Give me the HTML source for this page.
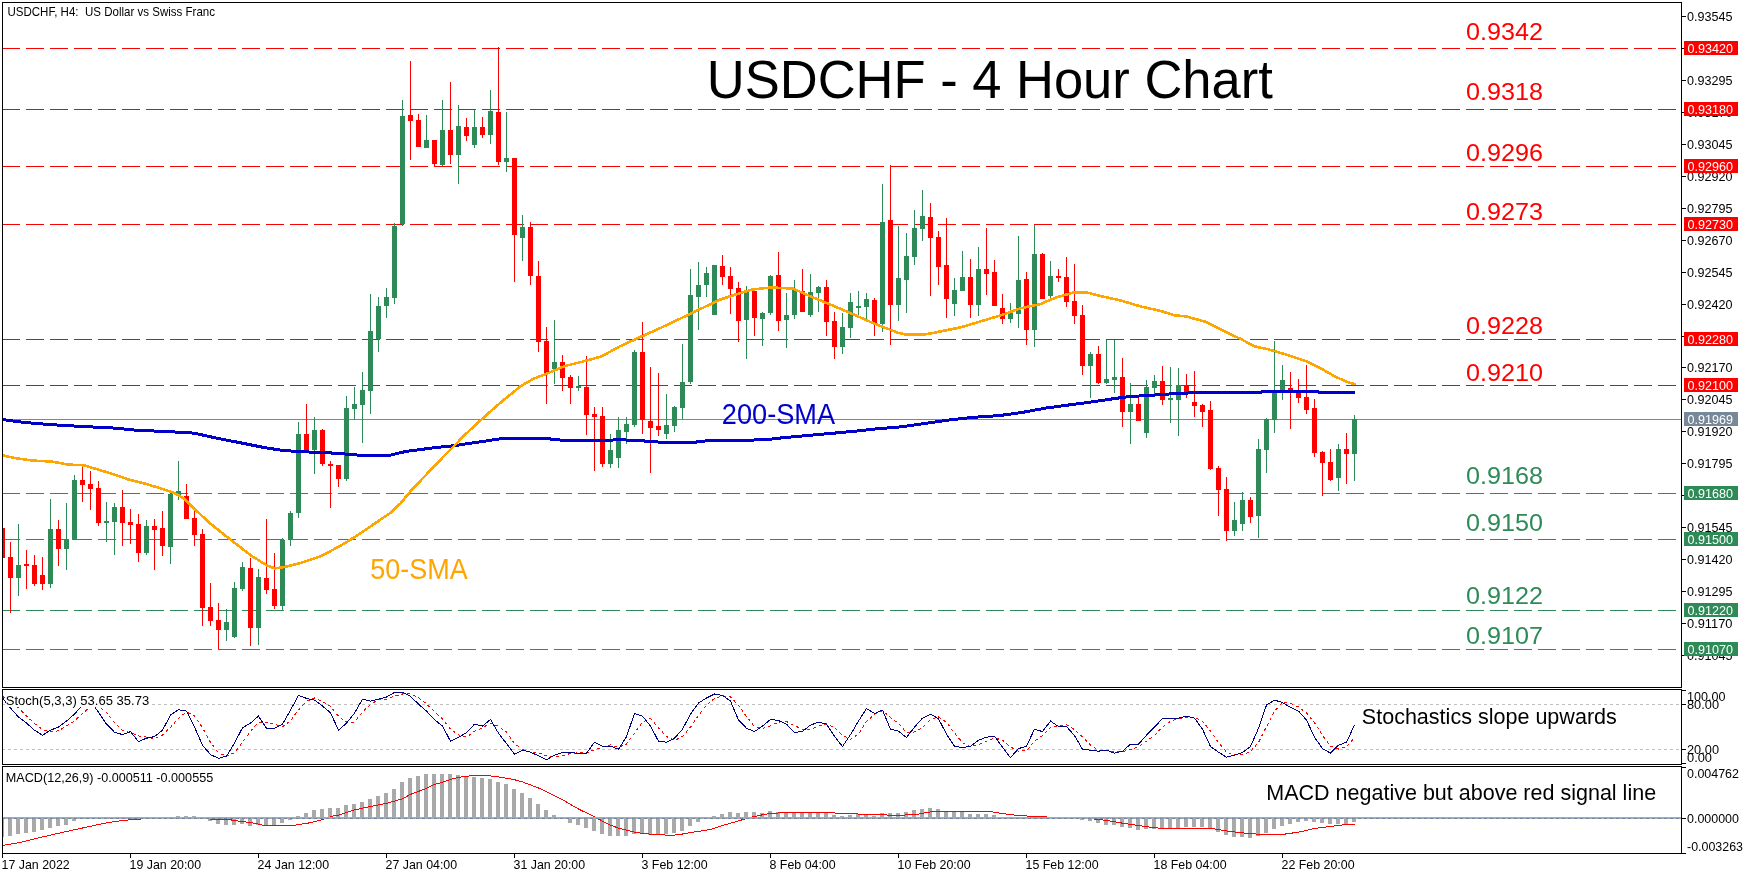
<!DOCTYPE html><html><head><meta charset="utf-8"><title>USDCHF - 4 Hour Chart</title>
<style>html,body{margin:0;padding:0;background:#fff;overflow:hidden}svg{display:block;will-change:transform}text{font-family:"Liberation Sans",sans-serif}.s{font-size:13px;fill:#000}.w{font-size:13px;fill:#fff}.cr{shape-rendering:crispEdges}</style></head><body>
<svg width="1751" height="877" viewBox="0 0 1751 877">
<rect width="1751" height="877" fill="#fff"/>
<g class="cr" fill="none" stroke-width="1">
<line x1="3" y1="419.5" x2="1681" y2="419.5" stroke="#778899"/>
<line x1="3" y1="48.5" x2="1681" y2="48.5" stroke="#ff0000" stroke-dasharray="18 6" stroke-dashoffset="1"/>
<line x1="3" y1="109.5" x2="1681" y2="109.5" stroke="#ff0000" stroke-dasharray="18 6" stroke-dashoffset="1"/>
<line x1="3" y1="166.5" x2="1681" y2="166.5" stroke="#ff0000" stroke-dasharray="18 6" stroke-dashoffset="1"/>
<line x1="3" y1="224.5" x2="1681" y2="224.5" stroke="#ff0000" stroke-dasharray="18 6" stroke-dashoffset="1"/>
<line x1="3" y1="339.5" x2="1681" y2="339.5" stroke="#ff0000" stroke-dasharray="18 6" stroke-dashoffset="1"/>
<line x1="3" y1="385.5" x2="1681" y2="385.5" stroke="#ff0000" stroke-dasharray="18 6" stroke-dashoffset="1"/>
<line x1="3" y1="493.5" x2="1681" y2="493.5" stroke="#2e8b57" stroke-dasharray="18 6" stroke-dashoffset="1"/>
<line x1="3" y1="539.5" x2="1681" y2="539.5" stroke="#2e8b57" stroke-dasharray="18 6" stroke-dashoffset="1"/>
<line x1="3" y1="610.5" x2="1681" y2="610.5" stroke="#2e8b57" stroke-dasharray="18 6" stroke-dashoffset="1"/>
<line x1="3" y1="649.5" x2="1681" y2="649.5" stroke="#2e8b57" stroke-dasharray="18 6" stroke-dashoffset="1"/>
</g>
<g class="cr">
<rect x="2" y="527" width="1" height="33" fill="#ff0000"/>
<rect x="0" y="528" width="5" height="30" fill="#ff0000"/>
<rect x="10" y="542" width="1" height="71" fill="#ff0000"/>
<rect x="8" y="557" width="5" height="21" fill="#ff0000"/>
<rect x="18" y="524" width="1" height="72" fill="#2e8b57"/>
<rect x="16" y="565" width="5" height="13" fill="#2e8b57"/>
<rect x="26" y="550" width="1" height="39" fill="#ff0000"/>
<rect x="24" y="564" width="5" height="2" fill="#ff0000"/>
<rect x="34" y="555" width="1" height="31" fill="#ff0000"/>
<rect x="32" y="565" width="5" height="19" fill="#ff0000"/>
<rect x="42" y="557" width="1" height="33" fill="#ff0000"/>
<rect x="40" y="575" width="5" height="9" fill="#ff0000"/>
<rect x="50" y="499" width="1" height="89" fill="#2e8b57"/>
<rect x="48" y="529" width="5" height="55" fill="#2e8b57"/>
<rect x="58" y="520" width="1" height="46" fill="#ff0000"/>
<rect x="56" y="529" width="5" height="20" fill="#ff0000"/>
<rect x="66" y="503" width="1" height="67" fill="#2e8b57"/>
<rect x="64" y="539" width="5" height="10" fill="#2e8b57"/>
<rect x="74" y="475" width="1" height="65" fill="#2e8b57"/>
<rect x="72" y="480" width="5" height="60" fill="#2e8b57"/>
<rect x="82" y="467" width="1" height="35" fill="#ff0000"/>
<rect x="80" y="480" width="5" height="5" fill="#ff0000"/>
<rect x="90" y="471" width="1" height="39" fill="#ff0000"/>
<rect x="88" y="484" width="5" height="5" fill="#ff0000"/>
<rect x="98" y="481" width="1" height="45" fill="#ff0000"/>
<rect x="96" y="488" width="5" height="35" fill="#ff0000"/>
<rect x="106" y="502" width="1" height="40" fill="#2e8b57"/>
<rect x="104" y="521" width="5" height="2" fill="#2e8b57"/>
<rect x="114" y="503" width="1" height="52" fill="#2e8b57"/>
<rect x="112" y="507" width="5" height="15" fill="#2e8b57"/>
<rect x="122" y="490" width="1" height="56" fill="#ff0000"/>
<rect x="120" y="507" width="5" height="16" fill="#ff0000"/>
<rect x="130" y="509" width="1" height="35" fill="#ff0000"/>
<rect x="128" y="522" width="5" height="3" fill="#ff0000"/>
<rect x="138" y="514" width="1" height="48" fill="#ff0000"/>
<rect x="136" y="524" width="5" height="29" fill="#ff0000"/>
<rect x="146" y="520" width="1" height="35" fill="#2e8b57"/>
<rect x="144" y="526" width="5" height="27" fill="#2e8b57"/>
<rect x="154" y="519" width="1" height="51" fill="#ff0000"/>
<rect x="152" y="526" width="5" height="4" fill="#ff0000"/>
<rect x="162" y="511" width="1" height="45" fill="#ff0000"/>
<rect x="160" y="528" width="5" height="18" fill="#ff0000"/>
<rect x="170" y="493" width="1" height="71" fill="#2e8b57"/>
<rect x="168" y="494" width="5" height="53" fill="#2e8b57"/>
<rect x="178" y="461" width="1" height="39" fill="#2e8b57"/>
<rect x="176" y="491" width="5" height="4" fill="#2e8b57"/>
<rect x="186" y="484" width="1" height="35" fill="#ff0000"/>
<rect x="184" y="496" width="5" height="23" fill="#ff0000"/>
<rect x="194" y="510" width="1" height="36" fill="#ff0000"/>
<rect x="192" y="518" width="5" height="17" fill="#ff0000"/>
<rect x="202" y="529" width="1" height="97" fill="#ff0000"/>
<rect x="200" y="534" width="5" height="74" fill="#ff0000"/>
<rect x="210" y="583" width="1" height="43" fill="#ff0000"/>
<rect x="208" y="607" width="5" height="14" fill="#ff0000"/>
<rect x="218" y="603" width="1" height="46" fill="#ff0000"/>
<rect x="216" y="620" width="5" height="10" fill="#ff0000"/>
<rect x="226" y="609" width="1" height="32" fill="#2e8b57"/>
<rect x="224" y="622" width="5" height="8" fill="#2e8b57"/>
<rect x="234" y="582" width="1" height="56" fill="#2e8b57"/>
<rect x="232" y="588" width="5" height="49" fill="#2e8b57"/>
<rect x="242" y="562" width="1" height="29" fill="#2e8b57"/>
<rect x="240" y="567" width="5" height="22" fill="#2e8b57"/>
<rect x="250" y="558" width="1" height="88" fill="#ff0000"/>
<rect x="248" y="568" width="5" height="60" fill="#ff0000"/>
<rect x="258" y="569" width="1" height="76" fill="#2e8b57"/>
<rect x="256" y="577" width="5" height="51" fill="#2e8b57"/>
<rect x="266" y="519" width="1" height="75" fill="#ff0000"/>
<rect x="264" y="578" width="5" height="12" fill="#ff0000"/>
<rect x="274" y="553" width="1" height="56" fill="#ff0000"/>
<rect x="272" y="589" width="5" height="17" fill="#ff0000"/>
<rect x="282" y="538" width="1" height="72" fill="#2e8b57"/>
<rect x="280" y="540" width="5" height="66" fill="#2e8b57"/>
<rect x="290" y="511" width="1" height="35" fill="#2e8b57"/>
<rect x="288" y="513" width="5" height="27" fill="#2e8b57"/>
<rect x="298" y="422" width="1" height="96" fill="#2e8b57"/>
<rect x="296" y="434" width="5" height="79" fill="#2e8b57"/>
<rect x="306" y="404" width="1" height="47" fill="#ff0000"/>
<rect x="304" y="434" width="5" height="17" fill="#ff0000"/>
<rect x="314" y="417" width="1" height="57" fill="#2e8b57"/>
<rect x="312" y="430" width="5" height="20" fill="#2e8b57"/>
<rect x="322" y="429" width="1" height="37" fill="#ff0000"/>
<rect x="320" y="430" width="5" height="34" fill="#ff0000"/>
<rect x="330" y="461" width="1" height="47" fill="#ff0000"/>
<rect x="328" y="464" width="5" height="2" fill="#ff0000"/>
<rect x="338" y="465" width="1" height="22" fill="#ff0000"/>
<rect x="336" y="465" width="5" height="14" fill="#ff0000"/>
<rect x="346" y="396" width="1" height="85" fill="#2e8b57"/>
<rect x="344" y="408" width="5" height="71" fill="#2e8b57"/>
<rect x="354" y="387" width="1" height="33" fill="#2e8b57"/>
<rect x="352" y="404" width="5" height="5" fill="#2e8b57"/>
<rect x="362" y="372" width="1" height="71" fill="#2e8b57"/>
<rect x="360" y="390" width="5" height="15" fill="#2e8b57"/>
<rect x="370" y="294" width="1" height="120" fill="#2e8b57"/>
<rect x="368" y="331" width="5" height="60" fill="#2e8b57"/>
<rect x="378" y="297" width="1" height="55" fill="#2e8b57"/>
<rect x="376" y="306" width="5" height="33" fill="#2e8b57"/>
<rect x="386" y="288" width="1" height="30" fill="#2e8b57"/>
<rect x="384" y="297" width="5" height="9" fill="#2e8b57"/>
<rect x="394" y="223" width="1" height="81" fill="#2e8b57"/>
<rect x="392" y="226" width="5" height="72" fill="#2e8b57"/>
<rect x="402" y="100" width="1" height="126" fill="#2e8b57"/>
<rect x="400" y="116" width="5" height="108" fill="#2e8b57"/>
<rect x="410" y="61" width="1" height="99" fill="#ff0000"/>
<rect x="408" y="115" width="5" height="6" fill="#ff0000"/>
<rect x="418" y="114" width="1" height="33" fill="#ff0000"/>
<rect x="416" y="120" width="5" height="27" fill="#ff0000"/>
<rect x="426" y="115" width="1" height="33" fill="#2e8b57"/>
<rect x="424" y="140" width="5" height="8" fill="#2e8b57"/>
<rect x="434" y="140" width="1" height="26" fill="#ff0000"/>
<rect x="432" y="140" width="5" height="24" fill="#ff0000"/>
<rect x="442" y="100" width="1" height="66" fill="#2e8b57"/>
<rect x="440" y="130" width="5" height="35" fill="#2e8b57"/>
<rect x="450" y="82" width="1" height="82" fill="#ff0000"/>
<rect x="448" y="130" width="5" height="25" fill="#ff0000"/>
<rect x="458" y="105" width="1" height="79" fill="#2e8b57"/>
<rect x="456" y="126" width="5" height="29" fill="#2e8b57"/>
<rect x="466" y="118" width="1" height="23" fill="#ff0000"/>
<rect x="464" y="127" width="5" height="9" fill="#ff0000"/>
<rect x="474" y="110" width="1" height="38" fill="#2e8b57"/>
<rect x="472" y="127" width="5" height="18" fill="#2e8b57"/>
<rect x="482" y="117" width="1" height="21" fill="#ff0000"/>
<rect x="480" y="127" width="5" height="8" fill="#ff0000"/>
<rect x="490" y="90" width="1" height="54" fill="#2e8b57"/>
<rect x="488" y="111" width="5" height="24" fill="#2e8b57"/>
<rect x="498" y="47" width="1" height="118" fill="#ff0000"/>
<rect x="496" y="112" width="5" height="50" fill="#ff0000"/>
<rect x="506" y="112" width="1" height="60" fill="#2e8b57"/>
<rect x="504" y="158" width="5" height="4" fill="#2e8b57"/>
<rect x="514" y="158" width="1" height="124" fill="#ff0000"/>
<rect x="512" y="158" width="5" height="77" fill="#ff0000"/>
<rect x="522" y="215" width="1" height="46" fill="#2e8b57"/>
<rect x="520" y="227" width="5" height="11" fill="#2e8b57"/>
<rect x="530" y="222" width="1" height="63" fill="#ff0000"/>
<rect x="528" y="227" width="5" height="49" fill="#ff0000"/>
<rect x="538" y="261" width="1" height="91" fill="#ff0000"/>
<rect x="536" y="276" width="5" height="66" fill="#ff0000"/>
<rect x="546" y="327" width="1" height="77" fill="#ff0000"/>
<rect x="544" y="341" width="5" height="32" fill="#ff0000"/>
<rect x="554" y="320" width="1" height="64" fill="#2e8b57"/>
<rect x="552" y="362" width="5" height="7" fill="#2e8b57"/>
<rect x="562" y="355" width="1" height="36" fill="#ff0000"/>
<rect x="560" y="362" width="5" height="16" fill="#ff0000"/>
<rect x="570" y="375" width="1" height="29" fill="#ff0000"/>
<rect x="568" y="377" width="5" height="11" fill="#ff0000"/>
<rect x="578" y="376" width="1" height="15" fill="#2e8b57"/>
<rect x="576" y="386" width="5" height="2" fill="#2e8b57"/>
<rect x="586" y="356" width="1" height="79" fill="#ff0000"/>
<rect x="584" y="387" width="5" height="28" fill="#ff0000"/>
<rect x="594" y="407" width="1" height="64" fill="#ff0000"/>
<rect x="592" y="414" width="5" height="3" fill="#ff0000"/>
<rect x="602" y="407" width="1" height="60" fill="#ff0000"/>
<rect x="600" y="416" width="5" height="48" fill="#ff0000"/>
<rect x="610" y="434" width="1" height="34" fill="#2e8b57"/>
<rect x="608" y="450" width="5" height="14" fill="#2e8b57"/>
<rect x="618" y="417" width="1" height="51" fill="#2e8b57"/>
<rect x="616" y="430" width="5" height="28" fill="#2e8b57"/>
<rect x="626" y="417" width="1" height="27" fill="#2e8b57"/>
<rect x="624" y="424" width="5" height="8" fill="#2e8b57"/>
<rect x="634" y="350" width="1" height="77" fill="#2e8b57"/>
<rect x="632" y="352" width="5" height="73" fill="#2e8b57"/>
<rect x="642" y="322" width="1" height="112" fill="#ff0000"/>
<rect x="640" y="352" width="5" height="68" fill="#ff0000"/>
<rect x="650" y="367" width="1" height="106" fill="#ff0000"/>
<rect x="648" y="421" width="5" height="7" fill="#ff0000"/>
<rect x="658" y="373" width="1" height="63" fill="#ff0000"/>
<rect x="656" y="426" width="5" height="4" fill="#ff0000"/>
<rect x="666" y="394" width="1" height="45" fill="#2e8b57"/>
<rect x="664" y="425" width="5" height="9" fill="#2e8b57"/>
<rect x="674" y="406" width="1" height="26" fill="#2e8b57"/>
<rect x="672" y="407" width="5" height="19" fill="#2e8b57"/>
<rect x="682" y="344" width="1" height="75" fill="#2e8b57"/>
<rect x="680" y="382" width="5" height="26" fill="#2e8b57"/>
<rect x="690" y="269" width="1" height="115" fill="#2e8b57"/>
<rect x="688" y="295" width="5" height="87" fill="#2e8b57"/>
<rect x="698" y="262" width="1" height="68" fill="#2e8b57"/>
<rect x="696" y="285" width="5" height="12" fill="#2e8b57"/>
<rect x="706" y="267" width="1" height="30" fill="#2e8b57"/>
<rect x="704" y="273" width="5" height="12" fill="#2e8b57"/>
<rect x="714" y="265" width="1" height="50" fill="#2e8b57"/>
<rect x="712" y="265" width="5" height="50" fill="#2e8b57"/>
<rect x="722" y="255" width="1" height="30" fill="#ff0000"/>
<rect x="720" y="266" width="5" height="11" fill="#ff0000"/>
<rect x="730" y="267" width="1" height="47" fill="#ff0000"/>
<rect x="728" y="276" width="5" height="13" fill="#ff0000"/>
<rect x="738" y="282" width="1" height="60" fill="#ff0000"/>
<rect x="736" y="288" width="5" height="33" fill="#ff0000"/>
<rect x="746" y="286" width="1" height="73" fill="#2e8b57"/>
<rect x="744" y="292" width="5" height="28" fill="#2e8b57"/>
<rect x="754" y="290" width="1" height="46" fill="#ff0000"/>
<rect x="752" y="291" width="5" height="27" fill="#ff0000"/>
<rect x="762" y="312" width="1" height="34" fill="#2e8b57"/>
<rect x="760" y="313" width="5" height="6" fill="#2e8b57"/>
<rect x="770" y="275" width="1" height="40" fill="#2e8b57"/>
<rect x="768" y="276" width="5" height="37" fill="#2e8b57"/>
<rect x="778" y="252" width="1" height="79" fill="#ff0000"/>
<rect x="776" y="275" width="5" height="46" fill="#ff0000"/>
<rect x="786" y="293" width="1" height="55" fill="#2e8b57"/>
<rect x="784" y="315" width="5" height="5" fill="#2e8b57"/>
<rect x="794" y="280" width="1" height="39" fill="#2e8b57"/>
<rect x="792" y="290" width="5" height="25" fill="#2e8b57"/>
<rect x="802" y="269" width="1" height="43" fill="#ff0000"/>
<rect x="800" y="291" width="5" height="21" fill="#ff0000"/>
<rect x="810" y="274" width="1" height="43" fill="#2e8b57"/>
<rect x="808" y="292" width="5" height="23" fill="#2e8b57"/>
<rect x="818" y="286" width="1" height="26" fill="#2e8b57"/>
<rect x="816" y="287" width="5" height="6" fill="#2e8b57"/>
<rect x="826" y="280" width="1" height="56" fill="#ff0000"/>
<rect x="824" y="287" width="5" height="35" fill="#ff0000"/>
<rect x="834" y="312" width="1" height="47" fill="#ff0000"/>
<rect x="832" y="321" width="5" height="26" fill="#ff0000"/>
<rect x="842" y="313" width="1" height="41" fill="#2e8b57"/>
<rect x="840" y="327" width="5" height="20" fill="#2e8b57"/>
<rect x="850" y="293" width="1" height="45" fill="#2e8b57"/>
<rect x="848" y="302" width="5" height="26" fill="#2e8b57"/>
<rect x="858" y="291" width="1" height="25" fill="#2e8b57"/>
<rect x="856" y="306" width="5" height="2" fill="#2e8b57"/>
<rect x="866" y="293" width="1" height="27" fill="#2e8b57"/>
<rect x="864" y="299" width="5" height="8" fill="#2e8b57"/>
<rect x="874" y="298" width="1" height="38" fill="#ff0000"/>
<rect x="872" y="300" width="5" height="23" fill="#ff0000"/>
<rect x="882" y="184" width="1" height="148" fill="#2e8b57"/>
<rect x="880" y="222" width="5" height="102" fill="#2e8b57"/>
<rect x="890" y="165" width="1" height="180" fill="#ff0000"/>
<rect x="888" y="220" width="5" height="85" fill="#ff0000"/>
<rect x="898" y="226" width="1" height="95" fill="#2e8b57"/>
<rect x="896" y="278" width="5" height="27" fill="#2e8b57"/>
<rect x="906" y="233" width="1" height="80" fill="#2e8b57"/>
<rect x="904" y="256" width="5" height="24" fill="#2e8b57"/>
<rect x="914" y="210" width="1" height="55" fill="#2e8b57"/>
<rect x="912" y="228" width="5" height="29" fill="#2e8b57"/>
<rect x="922" y="190" width="1" height="51" fill="#2e8b57"/>
<rect x="920" y="216" width="5" height="13" fill="#2e8b57"/>
<rect x="930" y="203" width="1" height="93" fill="#ff0000"/>
<rect x="928" y="217" width="5" height="21" fill="#ff0000"/>
<rect x="938" y="231" width="1" height="54" fill="#ff0000"/>
<rect x="936" y="237" width="5" height="30" fill="#ff0000"/>
<rect x="946" y="218" width="1" height="100" fill="#ff0000"/>
<rect x="944" y="265" width="5" height="34" fill="#ff0000"/>
<rect x="954" y="278" width="1" height="38" fill="#2e8b57"/>
<rect x="952" y="290" width="5" height="14" fill="#2e8b57"/>
<rect x="962" y="251" width="1" height="40" fill="#2e8b57"/>
<rect x="960" y="277" width="5" height="14" fill="#2e8b57"/>
<rect x="970" y="259" width="1" height="59" fill="#ff0000"/>
<rect x="968" y="277" width="5" height="28" fill="#ff0000"/>
<rect x="978" y="247" width="1" height="69" fill="#2e8b57"/>
<rect x="976" y="269" width="5" height="36" fill="#2e8b57"/>
<rect x="986" y="228" width="1" height="67" fill="#ff0000"/>
<rect x="984" y="269" width="5" height="5" fill="#ff0000"/>
<rect x="994" y="260" width="1" height="46" fill="#ff0000"/>
<rect x="992" y="272" width="5" height="34" fill="#ff0000"/>
<rect x="1002" y="294" width="1" height="30" fill="#ff0000"/>
<rect x="1000" y="308" width="5" height="11" fill="#ff0000"/>
<rect x="1010" y="303" width="1" height="20" fill="#2e8b57"/>
<rect x="1008" y="312" width="5" height="7" fill="#2e8b57"/>
<rect x="1018" y="236" width="1" height="92" fill="#2e8b57"/>
<rect x="1016" y="280" width="5" height="34" fill="#2e8b57"/>
<rect x="1026" y="272" width="1" height="73" fill="#ff0000"/>
<rect x="1024" y="279" width="5" height="51" fill="#ff0000"/>
<rect x="1034" y="225" width="1" height="122" fill="#2e8b57"/>
<rect x="1032" y="254" width="5" height="76" fill="#2e8b57"/>
<rect x="1042" y="253" width="1" height="46" fill="#ff0000"/>
<rect x="1040" y="254" width="5" height="45" fill="#ff0000"/>
<rect x="1050" y="261" width="1" height="37" fill="#2e8b57"/>
<rect x="1048" y="276" width="5" height="20" fill="#2e8b57"/>
<rect x="1058" y="269" width="1" height="13" fill="#ff0000"/>
<rect x="1056" y="276" width="5" height="2" fill="#ff0000"/>
<rect x="1066" y="257" width="1" height="50" fill="#ff0000"/>
<rect x="1064" y="277" width="5" height="25" fill="#ff0000"/>
<rect x="1074" y="264" width="1" height="60" fill="#ff0000"/>
<rect x="1072" y="301" width="5" height="15" fill="#ff0000"/>
<rect x="1082" y="305" width="1" height="70" fill="#ff0000"/>
<rect x="1080" y="315" width="5" height="51" fill="#ff0000"/>
<rect x="1090" y="352" width="1" height="46" fill="#2e8b57"/>
<rect x="1088" y="354" width="5" height="12" fill="#2e8b57"/>
<rect x="1098" y="346" width="1" height="38" fill="#ff0000"/>
<rect x="1096" y="354" width="5" height="29" fill="#ff0000"/>
<rect x="1106" y="340" width="1" height="44" fill="#2e8b57"/>
<rect x="1104" y="379" width="5" height="4" fill="#2e8b57"/>
<rect x="1114" y="340" width="1" height="53" fill="#2e8b57"/>
<rect x="1112" y="377" width="5" height="3" fill="#2e8b57"/>
<rect x="1122" y="358" width="1" height="69" fill="#ff0000"/>
<rect x="1120" y="377" width="5" height="35" fill="#ff0000"/>
<rect x="1130" y="383" width="1" height="61" fill="#2e8b57"/>
<rect x="1128" y="404" width="5" height="8" fill="#2e8b57"/>
<rect x="1138" y="398" width="1" height="23" fill="#ff0000"/>
<rect x="1136" y="404" width="5" height="17" fill="#ff0000"/>
<rect x="1146" y="380" width="1" height="58" fill="#2e8b57"/>
<rect x="1144" y="387" width="5" height="46" fill="#2e8b57"/>
<rect x="1154" y="375" width="1" height="21" fill="#2e8b57"/>
<rect x="1152" y="381" width="5" height="7" fill="#2e8b57"/>
<rect x="1162" y="366" width="1" height="39" fill="#ff0000"/>
<rect x="1160" y="381" width="5" height="19" fill="#ff0000"/>
<rect x="1170" y="367" width="1" height="56" fill="#2e8b57"/>
<rect x="1168" y="398" width="5" height="2" fill="#2e8b57"/>
<rect x="1178" y="368" width="1" height="68" fill="#2e8b57"/>
<rect x="1176" y="385" width="5" height="15" fill="#2e8b57"/>
<rect x="1186" y="374" width="1" height="24" fill="#ff0000"/>
<rect x="1184" y="385" width="5" height="8" fill="#ff0000"/>
<rect x="1194" y="371" width="1" height="46" fill="#ff0000"/>
<rect x="1192" y="402" width="5" height="4" fill="#ff0000"/>
<rect x="1202" y="404" width="1" height="23" fill="#ff0000"/>
<rect x="1200" y="405" width="5" height="7" fill="#ff0000"/>
<rect x="1210" y="401" width="1" height="69" fill="#ff0000"/>
<rect x="1208" y="410" width="5" height="59" fill="#ff0000"/>
<rect x="1218" y="466" width="1" height="50" fill="#ff0000"/>
<rect x="1216" y="468" width="5" height="22" fill="#ff0000"/>
<rect x="1226" y="477" width="1" height="64" fill="#ff0000"/>
<rect x="1224" y="489" width="5" height="42" fill="#ff0000"/>
<rect x="1234" y="502" width="1" height="34" fill="#2e8b57"/>
<rect x="1232" y="520" width="5" height="11" fill="#2e8b57"/>
<rect x="1242" y="492" width="1" height="39" fill="#2e8b57"/>
<rect x="1240" y="500" width="5" height="24" fill="#2e8b57"/>
<rect x="1250" y="497" width="1" height="26" fill="#ff0000"/>
<rect x="1248" y="500" width="5" height="17" fill="#ff0000"/>
<rect x="1258" y="439" width="1" height="99" fill="#2e8b57"/>
<rect x="1256" y="449" width="5" height="67" fill="#2e8b57"/>
<rect x="1266" y="418" width="1" height="55" fill="#2e8b57"/>
<rect x="1264" y="419" width="5" height="31" fill="#2e8b57"/>
<rect x="1274" y="341" width="1" height="92" fill="#2e8b57"/>
<rect x="1272" y="391" width="5" height="29" fill="#2e8b57"/>
<rect x="1282" y="365" width="1" height="35" fill="#2e8b57"/>
<rect x="1280" y="380" width="5" height="10" fill="#2e8b57"/>
<rect x="1290" y="372" width="1" height="57" fill="#ff0000"/>
<rect x="1288" y="388" width="5" height="2" fill="#ff0000"/>
<rect x="1298" y="379" width="1" height="24" fill="#ff0000"/>
<rect x="1296" y="392" width="5" height="6" fill="#ff0000"/>
<rect x="1306" y="365" width="1" height="49" fill="#ff0000"/>
<rect x="1304" y="397" width="5" height="13" fill="#ff0000"/>
<rect x="1314" y="399" width="1" height="58" fill="#ff0000"/>
<rect x="1312" y="408" width="5" height="45" fill="#ff0000"/>
<rect x="1322" y="451" width="1" height="45" fill="#ff0000"/>
<rect x="1320" y="452" width="5" height="11" fill="#ff0000"/>
<rect x="1330" y="449" width="1" height="32" fill="#ff0000"/>
<rect x="1328" y="462" width="5" height="18" fill="#ff0000"/>
<rect x="1338" y="444" width="1" height="47" fill="#2e8b57"/>
<rect x="1336" y="449" width="5" height="29" fill="#2e8b57"/>
<rect x="1346" y="433" width="1" height="51" fill="#ff0000"/>
<rect x="1344" y="449" width="5" height="5" fill="#ff0000"/>
<rect x="1354" y="415" width="1" height="66" fill="#2e8b57"/>
<rect x="1352" y="419" width="5" height="35" fill="#2e8b57"/>
</g>
<path d="M3.0,419.6 L17.1,421.6 L34.3,423.3 L51.4,424.7 L68.5,425.6 L85.7,426.8 L102.8,427.3 L119.9,428.5 L130.2,429.8 L154.2,431.0 L171.3,431.9 L188.5,432.4 L197.0,433.8 L214.2,437.6 L231.3,441.0 L248.4,444.4 L265.5,447.8 L282.7,450.4 L300.0,451.7 L325.7,452.6 L342.8,453.8 L358.2,455.1 L390.8,455.1 L398.5,453.1 L406.2,451.4 L419.9,449.6 L437.1,447.4 L454.2,445.7 L471.3,443.1 L488.5,440.6 L502.2,438.5 L550.1,438.5 L551.8,439.7 L565.5,440.2 L600.0,440.6 L620.1,439.7 L646.2,441.1 L664.2,442.5 L692.3,442.5 L700.0,441.6 L710.3,440.4 L765.1,439.9 L782.2,437.8 L806.2,435.6 L830.2,433.5 L854.2,431.3 L878.2,428.7 L902.2,426.7 L926.1,423.3 L950.1,419.8 L974.1,417.3 L1000.0,415.5 L1022.8,412.3 L1045.7,408.1 L1068.5,405.0 L1091.4,402.0 L1114.2,398.6 L1127.9,396.7 L1146.2,395.6 L1169.0,394.0 L1182.8,393.3 L1198.7,392.4 L1260.4,392.4 L1263.9,391.2 L1317.5,391.2 L1319.8,392.6 L1355.2,392.6" fill="none" stroke="#0000cd" stroke-width="3" stroke-linejoin="round" class="cr"/>
<path d="M3.0,455.5 L17.1,458.5 L34.3,460.7 L51.4,461.5 L68.5,464.6 L83.9,465.3 L94.2,468.4 L111.4,473.5 L128.5,479.5 L145.6,483.8 L162.8,489.0 L174.7,493.2 L185.0,499.2 L192.7,507.3 L210.7,523.9 L228.8,538.3 L250.9,555.4 L266.9,565.4 L274.9,568.4 L285.0,566.8 L301.0,562.8 L321.1,556.0 L341.2,545.4 L356.3,536.0 L370.3,526.6 L390.4,512.8 L400.4,503.5 L410.4,491.4 L426.5,474.4 L440.5,459.7 L454.6,445.3 L466.6,433.2 L480.7,420.2 L490.7,411.2 L504.8,399.1 L520.8,386.1 L532.9,379.1 L546.9,373.6 L565.0,366.0 L581.0,362.0 L601.1,356.6 L620.1,346.2 L640.1,337.1 L660.2,328.1 L680.3,318.6 L700.3,309.0 L720.4,299.5 L740.5,292.9 L752.5,289.5 L770.6,287.5 L792.7,288.5 L810.7,296.5 L830.8,304.7 L850.9,313.3 L870.9,322.1 L891.0,330.1 L898.0,332.8 L905.0,334.3 L925.1,334.3 L932.0,333.2 L940.1,331.5 L960.1,327.5 L980.2,321.5 L1000.3,315.5 L1020.3,308.4 L1040.4,304.0 L1056.5,297.4 L1072.5,292.8 L1086.6,292.4 L1100.6,296.0 L1120.7,300.5 L1140.8,306.5 L1160.8,311.0 L1174.5,315.3 L1186.5,316.5 L1206.6,322.1 L1224.7,331.5 L1240.7,339.0 L1254.8,346.4 L1269.6,349.6 L1286.6,354.7 L1306.6,361.3 L1320.7,368.3 L1334.7,376.3 L1346.8,381.9 L1355.8,384.4" fill="none" stroke="#ffa500" stroke-width="2.6" stroke-linejoin="round" class="cr"/>
<g class="cr" fill="none" stroke="#c0c0c0" stroke-width="1" stroke-dasharray="3 3">
<line x1="2" y1="704.5" x2="1681" y2="704.5"/><line x1="2" y1="749.5" x2="1681" y2="749.5"/></g>
<path d="M2.5,696.0 L10.5,703.1 L18.5,707.7 L26.5,716.1 L34.5,723.5 L42.5,729.5 L50.5,731.8 L58.5,730.8 L66.5,726.1 L74.5,720.8 L82.5,713.4 L90.5,706.7 L98.5,706.1 L106.5,712.4 L114.5,722.8 L122.5,730.3 L130.5,732.8 L138.5,735.9 L146.5,737.1 L154.5,738.8 L162.5,735.0 L170.5,727.3 L178.5,718.3 L186.5,712.0 L194.5,716.0 L202.5,727.8 L210.5,742.3 L218.5,752.7 L226.5,756.4 L234.5,752.6 L242.5,742.4 L250.5,731.4 L258.5,722.3 L266.5,722.5 L274.5,724.1 L282.5,726.8 L290.5,720.8 L298.5,709.9 L306.5,701.3 L314.5,698.0 L322.5,701.5 L330.5,706.3 L338.5,716.3 L346.5,722.0 L354.5,722.1 L362.5,711.8 L370.5,704.4 L378.5,699.7 L386.5,699.1 L394.5,696.2 L402.5,694.0 L410.5,693.8 L418.5,697.6 L426.5,703.9 L434.5,711.6 L442.5,719.0 L450.5,729.0 L458.5,734.8 L466.5,737.0 L474.5,731.4 L482.5,727.7 L490.5,723.3 L498.5,726.3 L506.5,732.1 L514.5,743.7 L522.5,749.4 L530.5,752.2 L538.5,752.8 L546.5,755.9 L554.5,756.9 L562.5,755.8 L570.5,753.4 L578.5,752.8 L586.5,753.0 L594.5,749.7 L602.5,747.2 L610.5,744.9 L618.5,747.2 L626.5,744.0 L634.5,733.1 L642.5,722.1 L650.5,718.6 L658.5,727.8 L666.5,736.5 L674.5,740.5 L682.5,736.5 L690.5,727.1 L698.5,715.4 L706.5,705.1 L714.5,698.4 L722.5,695.8 L730.5,696.8 L738.5,705.5 L746.5,716.4 L754.5,726.6 L762.5,728.6 L770.5,725.7 L778.5,722.1 L786.5,721.4 L794.5,725.7 L802.5,729.3 L810.5,729.6 L818.5,726.1 L826.5,723.8 L834.5,727.5 L842.5,735.6 L850.5,739.1 L858.5,734.1 L866.5,721.4 L874.5,714.4 L882.5,710.7 L890.5,717.6 L898.5,723.5 L906.5,732.6 L914.5,732.0 L922.5,727.6 L930.5,719.8 L938.5,717.0 L946.5,722.3 L954.5,733.0 L962.5,742.7 L970.5,746.7 L978.5,744.7 L986.5,741.2 L994.5,737.8 L1002.5,740.2 L1010.5,747.0 L1018.5,751.2 L1026.5,750.8 L1034.5,741.3 L1042.5,735.6 L1050.5,727.3 L1058.5,726.4 L1066.5,724.7 L1074.5,729.6 L1082.5,737.1 L1090.5,745.0 L1098.5,750.2 L1106.5,750.6 L1114.5,751.6 L1122.5,751.6 L1130.5,749.6 L1138.5,746.5 L1146.5,741.2 L1154.5,735.5 L1162.5,726.9 L1170.5,721.4 L1178.5,718.4 L1186.5,717.6 L1194.5,717.4 L1202.5,721.1 L1210.5,731.3 L1218.5,742.7 L1226.5,752.0 L1234.5,754.9 L1242.5,755.0 L1250.5,751.5 L1258.5,742.5 L1266.5,726.6 L1274.5,711.1 L1282.5,702.5 L1290.5,703.3 L1298.5,707.0 L1306.5,712.9 L1314.5,722.8 L1322.5,735.3 L1330.5,746.3 L1338.5,749.0 L1346.5,746.9 L1354.5,737.5" fill="none" stroke="#ff0000" stroke-width="1" stroke-dasharray="3 3" class="cr"/>
<path d="M2.5,698.0 L10.5,708.1 L18.5,717.1 L26.5,723.1 L34.5,730.2 L42.5,735.2 L50.5,730.2 L58.5,727.1 L66.5,721.1 L74.5,714.1 L82.5,705.1 L90.5,701.1 L98.5,712.1 L106.5,724.1 L114.5,732.2 L122.5,734.6 L130.5,731.6 L138.5,741.6 L146.5,738.2 L154.5,736.6 L162.5,730.2 L170.5,715.1 L178.5,709.7 L186.5,711.1 L194.5,727.1 L202.5,745.2 L210.5,754.6 L218.5,758.3 L226.5,756.2 L234.5,743.2 L242.5,727.7 L250.5,723.1 L258.5,716.1 L266.5,728.2 L274.5,728.2 L282.5,724.1 L290.5,710.1 L298.5,695.4 L306.5,698.4 L314.5,700.1 L322.5,706.1 L330.5,712.7 L338.5,730.2 L346.5,723.1 L354.5,713.1 L362.5,699.1 L370.5,701.1 L378.5,699.1 L386.5,697.0 L394.5,692.4 L402.5,692.4 L410.5,696.4 L418.5,704.1 L426.5,711.1 L434.5,719.7 L442.5,726.1 L450.5,741.2 L458.5,737.2 L466.5,732.8 L474.5,724.1 L482.5,726.1 L490.5,719.5 L498.5,733.2 L506.5,743.6 L514.5,754.2 L522.5,750.2 L530.5,752.2 L538.5,755.8 L546.5,759.7 L554.5,755.2 L562.5,752.6 L570.5,752.2 L578.5,753.6 L586.5,753.2 L594.5,742.2 L602.5,746.2 L610.5,746.2 L618.5,749.2 L626.5,736.6 L634.5,713.5 L642.5,716.1 L650.5,726.1 L658.5,741.2 L666.5,742.2 L674.5,738.2 L682.5,729.2 L690.5,714.1 L698.5,703.1 L706.5,698.0 L714.5,694.0 L722.5,695.4 L730.5,701.1 L738.5,720.1 L746.5,728.2 L754.5,731.6 L762.5,726.1 L770.5,719.5 L778.5,720.5 L786.5,724.1 L794.5,732.6 L802.5,731.2 L810.5,725.1 L818.5,722.1 L826.5,724.1 L834.5,736.2 L842.5,746.6 L850.5,734.6 L858.5,721.1 L866.5,708.5 L874.5,713.5 L882.5,710.1 L890.5,729.2 L898.5,731.2 L906.5,737.6 L914.5,727.1 L922.5,718.1 L930.5,714.1 L938.5,718.7 L946.5,734.2 L954.5,746.2 L962.5,747.6 L970.5,746.2 L978.5,740.2 L986.5,737.2 L994.5,736.2 L1002.5,747.2 L1010.5,757.7 L1018.5,748.6 L1026.5,746.2 L1034.5,729.2 L1042.5,731.6 L1050.5,721.1 L1058.5,726.5 L1066.5,726.5 L1074.5,735.6 L1082.5,749.2 L1090.5,750.2 L1098.5,751.2 L1106.5,750.2 L1114.5,753.2 L1122.5,751.2 L1130.5,744.2 L1138.5,744.2 L1146.5,735.2 L1154.5,727.1 L1162.5,718.5 L1170.5,718.5 L1178.5,718.1 L1186.5,716.1 L1194.5,718.1 L1202.5,729.2 L1210.5,746.6 L1218.5,752.2 L1226.5,757.2 L1234.5,755.2 L1242.5,752.6 L1250.5,746.6 L1258.5,728.2 L1266.5,705.1 L1274.5,700.1 L1282.5,702.5 L1290.5,707.5 L1298.5,711.1 L1306.5,720.1 L1314.5,737.2 L1322.5,748.6 L1330.5,753.2 L1338.5,745.2 L1346.5,742.2 L1354.5,725.1" fill="none" stroke="#000080" stroke-width="1" class="cr"/>
<g class="cr" fill="#a9a9a9">
<rect x="0" y="819" width="4" height="18"/>
<rect x="8" y="819" width="4" height="17"/>
<rect x="16" y="819" width="4" height="15"/>
<rect x="24" y="819" width="4" height="14"/>
<rect x="32" y="819" width="4" height="13"/>
<rect x="40" y="819" width="4" height="11"/>
<rect x="48" y="819" width="4" height="9"/>
<rect x="56" y="819" width="4" height="7"/>
<rect x="64" y="819" width="4" height="6"/>
<rect x="72" y="819" width="4" height="2"/>
<rect x="176" y="816" width="4" height="1"/>
<rect x="184" y="816" width="4" height="1"/>
<rect x="192" y="816" width="4" height="1"/>
<rect x="208" y="819" width="4" height="2"/>
<rect x="216" y="819" width="4" height="5"/>
<rect x="224" y="819" width="4" height="6"/>
<rect x="232" y="819" width="4" height="6"/>
<rect x="240" y="819" width="4" height="5"/>
<rect x="248" y="819" width="4" height="7"/>
<rect x="256" y="819" width="4" height="6"/>
<rect x="264" y="819" width="4" height="6"/>
<rect x="272" y="819" width="4" height="6"/>
<rect x="280" y="819" width="4" height="4"/>
<rect x="288" y="819" width="4" height="1"/>
<rect x="296" y="816" width="4" height="1"/>
<rect x="304" y="813" width="4" height="4"/>
<rect x="312" y="810" width="4" height="7"/>
<rect x="320" y="809" width="4" height="8"/>
<rect x="328" y="808" width="4" height="9"/>
<rect x="336" y="808" width="4" height="9"/>
<rect x="344" y="805" width="4" height="12"/>
<rect x="352" y="804" width="4" height="13"/>
<rect x="360" y="802" width="4" height="15"/>
<rect x="368" y="799" width="4" height="18"/>
<rect x="376" y="796" width="4" height="21"/>
<rect x="384" y="793" width="4" height="24"/>
<rect x="392" y="789" width="4" height="28"/>
<rect x="400" y="782" width="4" height="35"/>
<rect x="408" y="778" width="4" height="39"/>
<rect x="416" y="776" width="4" height="41"/>
<rect x="424" y="774" width="4" height="43"/>
<rect x="432" y="774" width="4" height="43"/>
<rect x="440" y="774" width="4" height="43"/>
<rect x="448" y="774" width="4" height="43"/>
<rect x="456" y="775" width="4" height="42"/>
<rect x="464" y="776" width="4" height="41"/>
<rect x="472" y="777" width="4" height="40"/>
<rect x="480" y="778" width="4" height="39"/>
<rect x="488" y="779" width="4" height="38"/>
<rect x="496" y="782" width="4" height="35"/>
<rect x="504" y="784" width="4" height="33"/>
<rect x="512" y="789" width="4" height="28"/>
<rect x="520" y="793" width="4" height="24"/>
<rect x="528" y="798" width="4" height="19"/>
<rect x="536" y="804" width="4" height="13"/>
<rect x="544" y="810" width="4" height="7"/>
<rect x="552" y="815" width="4" height="2"/>
<rect x="568" y="819" width="4" height="4"/>
<rect x="576" y="819" width="4" height="6"/>
<rect x="584" y="819" width="4" height="9"/>
<rect x="592" y="819" width="4" height="12"/>
<rect x="600" y="819" width="4" height="15"/>
<rect x="608" y="819" width="4" height="17"/>
<rect x="616" y="819" width="4" height="17"/>
<rect x="624" y="819" width="4" height="17"/>
<rect x="632" y="819" width="4" height="15"/>
<rect x="640" y="819" width="4" height="15"/>
<rect x="648" y="819" width="4" height="16"/>
<rect x="656" y="819" width="4" height="16"/>
<rect x="664" y="819" width="4" height="15"/>
<rect x="672" y="819" width="4" height="14"/>
<rect x="680" y="819" width="4" height="12"/>
<rect x="688" y="819" width="4" height="7"/>
<rect x="696" y="819" width="4" height="3"/>
<rect x="712" y="816" width="4" height="1"/>
<rect x="720" y="814" width="4" height="3"/>
<rect x="728" y="812" width="4" height="5"/>
<rect x="736" y="813" width="4" height="4"/>
<rect x="744" y="812" width="4" height="5"/>
<rect x="752" y="812" width="4" height="5"/>
<rect x="760" y="813" width="4" height="4"/>
<rect x="768" y="811" width="4" height="6"/>
<rect x="776" y="812" width="4" height="5"/>
<rect x="784" y="812" width="4" height="5"/>
<rect x="792" y="812" width="4" height="5"/>
<rect x="800" y="812" width="4" height="5"/>
<rect x="808" y="812" width="4" height="5"/>
<rect x="816" y="812" width="4" height="5"/>
<rect x="824" y="812" width="4" height="5"/>
<rect x="832" y="815" width="4" height="2"/>
<rect x="840" y="816" width="4" height="1"/>
<rect x="848" y="815" width="4" height="2"/>
<rect x="856" y="814" width="4" height="3"/>
<rect x="864" y="814" width="4" height="3"/>
<rect x="872" y="816" width="4" height="1"/>
<rect x="880" y="813" width="4" height="4"/>
<rect x="888" y="813" width="4" height="4"/>
<rect x="896" y="813" width="4" height="4"/>
<rect x="904" y="812" width="4" height="5"/>
<rect x="912" y="810" width="4" height="7"/>
<rect x="920" y="809" width="4" height="8"/>
<rect x="928" y="808" width="4" height="9"/>
<rect x="936" y="809" width="4" height="8"/>
<rect x="944" y="811" width="4" height="6"/>
<rect x="952" y="811" width="4" height="6"/>
<rect x="960" y="811" width="4" height="6"/>
<rect x="968" y="814" width="4" height="3"/>
<rect x="976" y="814" width="4" height="3"/>
<rect x="984" y="814" width="4" height="3"/>
<rect x="992" y="815" width="4" height="2"/>
<rect x="1080" y="819" width="4" height="1"/>
<rect x="1088" y="819" width="4" height="2"/>
<rect x="1096" y="819" width="4" height="4"/>
<rect x="1104" y="819" width="4" height="6"/>
<rect x="1112" y="819" width="4" height="6"/>
<rect x="1120" y="819" width="4" height="8"/>
<rect x="1128" y="819" width="4" height="9"/>
<rect x="1136" y="819" width="4" height="11"/>
<rect x="1144" y="819" width="4" height="10"/>
<rect x="1152" y="819" width="4" height="10"/>
<rect x="1160" y="819" width="4" height="10"/>
<rect x="1168" y="819" width="4" height="10"/>
<rect x="1176" y="819" width="4" height="9"/>
<rect x="1184" y="819" width="4" height="8"/>
<rect x="1192" y="819" width="4" height="8"/>
<rect x="1200" y="819" width="4" height="8"/>
<rect x="1208" y="819" width="4" height="9"/>
<rect x="1216" y="819" width="4" height="13"/>
<rect x="1224" y="819" width="4" height="16"/>
<rect x="1232" y="819" width="4" height="18"/>
<rect x="1240" y="819" width="4" height="18"/>
<rect x="1248" y="819" width="4" height="19"/>
<rect x="1256" y="819" width="4" height="17"/>
<rect x="1264" y="819" width="4" height="14"/>
<rect x="1272" y="819" width="4" height="10"/>
<rect x="1280" y="819" width="4" height="7"/>
<rect x="1288" y="819" width="4" height="5"/>
<rect x="1296" y="819" width="4" height="3"/>
<rect x="1304" y="819" width="4" height="2"/>
<rect x="1312" y="819" width="4" height="3"/>
<rect x="1320" y="819" width="4" height="4"/>
<rect x="1328" y="819" width="4" height="5"/>
<rect x="1336" y="819" width="4" height="5"/>
<rect x="1344" y="819" width="4" height="5"/>
<rect x="1352" y="819" width="4" height="3"/>
</g>
<path d="M2.4,845.5 L20.1,842.5 L40.1,837.5 L60.2,832.9 L80.3,828.5 L100.3,824.1 L114.4,821.5 L132.5,819.5 L152.5,818.3 L200.7,818.1 L215.7,819.5 L230.8,819.9 L240.8,821.5 L250.9,822.5 L262.9,825.1 L293.0,825.5 L309.1,822.9 L321.1,820.1 L333.1,816.0 L340.0,814.8 L354.4,810.0 L370.5,806.4 L386.6,803.4 L402.4,798.8 L410.4,794.4 L426.5,788.4 L434.5,784.3 L442.5,782.3 L450.6,779.3 L458.4,777.3 L466.4,776.3 L474.5,775.5 L482.5,775.5 L490.5,775.9 L498.5,776.9 L506.6,778.3 L514.4,779.7 L522.4,781.9 L530.4,784.9 L538.5,788.0 L546.5,791.8 L554.5,795.8 L562.6,799.8 L570.6,804.4 L578.4,809.0 L586.4,812.8 L594.5,816.9 L602.5,821.1 L610.5,825.1 L618.5,828.1 L626.6,830.1 L634.4,832.1 L642.4,833.5 L650.5,834.1 L658.5,834.5 L666.5,835.1 L674.5,835.1 L680.0,834.5 L690.4,832.5 L698.5,831.5 L710.1,829.5 L722.5,825.5 L734.6,822.1 L746.4,818.5 L754.5,816.5 L762.5,814.8 L770.5,813.4 L778.5,813.0 L786.6,812.4 L830.5,812.4 L834.5,813.0 L846.6,813.8 L880.7,814.4 L890.7,815.4 L900.8,815.4 L906.8,814.8 L916.8,814.4 L926.8,812.4 L934.9,811.4 L989.1,811.4 L1001.1,813.4 L1017.1,815.4 L1020.0,815.4 L1032.0,816.5 L1046.1,816.5 L1049.1,817.7 L1070.2,818.1 L1096.3,819.1 L1110.3,821.1 L1124.4,823.5 L1138.4,825.5 L1152.5,827.5 L1168.5,828.9 L1214.7,828.9 L1226.5,830.9 L1242.6,832.9 L1256.8,834.1 L1284.9,834.1 L1298.9,832.1 L1314.4,828.5 L1330.5,826.5 L1346.5,824.5 L1354.5,824.1" fill="none" stroke="#ff0000" stroke-width="1" class="cr"/>
<rect x="3" y="817" width="1678" height="2" fill="#a9a9a9" class="cr"/>
<line x1="2" y1="818.5" x2="1681" y2="818.5" stroke="#7088a8" stroke-width="1" stroke-dasharray="3 3" class="cr"/>
<rect x="0" y="0" width="2" height="877" fill="#fff"/>
<rect x="1682" y="0" width="69" height="877" fill="#fff"/>
<g class="cr" fill="#000">
<rect x="2" y="2" width="1" height="686"/>
<rect x="2" y="689" width="1" height="76"/>
<rect x="2" y="766" width="1" height="92"/>
<rect x="1681" y="2" width="1" height="686"/>
<rect x="1681" y="689" width="1" height="76"/>
<rect x="1681" y="766" width="1" height="88"/>
<rect x="2" y="2" width="1680" height="1"/>
<rect x="2" y="687" width="1680" height="1"/>
<rect x="2" y="689" width="1680" height="1"/>
<rect x="2" y="764" width="1680" height="1"/>
<rect x="2" y="766" width="1680" height="1"/>
<rect x="2" y="853" width="1680" height="1"/>
<rect x="2" y="853" width="1" height="5"/>
<rect x="130" y="853" width="1" height="5"/>
<rect x="258" y="853" width="1" height="5"/>
<rect x="386" y="853" width="1" height="5"/>
<rect x="514" y="853" width="1" height="5"/>
<rect x="642" y="853" width="1" height="5"/>
<rect x="770" y="853" width="1" height="5"/>
<rect x="898" y="853" width="1" height="5"/>
<rect x="1026" y="853" width="1" height="5"/>
<rect x="1154" y="853" width="1" height="5"/>
<rect x="1282" y="853" width="1" height="5"/>
</g>
<rect x="4" y="5" width="214" height="14" fill="#fff"/>
<text class="s" x="7.4" y="16" textLength="207.6" lengthAdjust="spacingAndGlyphs" style="white-space:pre">USDCHF, H4:  US Dollar vs Swiss Franc</text>
<rect x="6" y="693" width="146" height="14" fill="#fff"/>
<text class="s" x="5.8" y="704.5" textLength="143.4" lengthAdjust="spacingAndGlyphs">Stoch(5,3,3) 53.65 35.73</text>
<rect x="6" y="771" width="210" height="14" fill="#fff"/>
<text class="s" x="5.8" y="781.5" textLength="207.4" lengthAdjust="spacingAndGlyphs">MACD(12,26,9) -0.000511 -0.000555</text>
<g class="cr" fill="#000">
<rect x="1682" y="16" width="4" height="1"/>
<rect x="1682" y="48" width="4" height="1"/>
<rect x="1682" y="112" width="4" height="1"/>
<rect x="1682" y="336" width="4" height="1"/>
<rect x="1682" y="495" width="4" height="1"/>
<rect x="1682" y="80" width="4" height="1"/>
<rect x="1682" y="144" width="4" height="1"/>
<rect x="1682" y="176" width="4" height="1"/>
<rect x="1682" y="208" width="4" height="1"/>
<rect x="1682" y="240" width="4" height="1"/>
<rect x="1682" y="272" width="4" height="1"/>
<rect x="1682" y="304" width="4" height="1"/>
<rect x="1682" y="367" width="4" height="1"/>
<rect x="1682" y="399" width="4" height="1"/>
<rect x="1682" y="431" width="4" height="1"/>
<rect x="1682" y="463" width="4" height="1"/>
<rect x="1682" y="527" width="4" height="1"/>
<rect x="1682" y="559" width="4" height="1"/>
<rect x="1682" y="591" width="4" height="1"/>
<rect x="1682" y="623" width="4" height="1"/>
<rect x="1682" y="655" width="4" height="1"/>
<rect x="1682" y="690" width="4" height="1"/>
<rect x="1682" y="704" width="4" height="1"/>
<rect x="1682" y="749" width="4" height="1"/>
<rect x="1682" y="763" width="4" height="1"/>
<rect x="1682" y="767" width="4" height="1"/>
<rect x="1682" y="818" width="4" height="1"/>
<rect x="1682" y="853" width="4" height="1"/>
</g>
<text class="s" x="1687" y="21" textLength="45.5" lengthAdjust="spacingAndGlyphs">0.93545</text>
<text class="s" x="1687" y="53" textLength="45.5" lengthAdjust="spacingAndGlyphs">0.93420</text>
<text class="s" x="1687" y="117" textLength="45.5" lengthAdjust="spacingAndGlyphs">0.93170</text>
<text class="s" x="1687" y="341" textLength="45.5" lengthAdjust="spacingAndGlyphs">0.92295</text>
<text class="s" x="1687" y="500" textLength="45.5" lengthAdjust="spacingAndGlyphs">0.91670</text>
<text class="s" x="1687" y="85" textLength="45.5" lengthAdjust="spacingAndGlyphs">0.93295</text>
<text class="s" x="1687" y="149" textLength="45.5" lengthAdjust="spacingAndGlyphs">0.93045</text>
<text class="s" x="1687" y="181" textLength="45.5" lengthAdjust="spacingAndGlyphs">0.92920</text>
<text class="s" x="1687" y="213" textLength="45.5" lengthAdjust="spacingAndGlyphs">0.92795</text>
<text class="s" x="1687" y="245" textLength="45.5" lengthAdjust="spacingAndGlyphs">0.92670</text>
<text class="s" x="1687" y="277" textLength="45.5" lengthAdjust="spacingAndGlyphs">0.92545</text>
<text class="s" x="1687" y="309" textLength="45.5" lengthAdjust="spacingAndGlyphs">0.92420</text>
<text class="s" x="1687" y="372" textLength="45.5" lengthAdjust="spacingAndGlyphs">0.92170</text>
<text class="s" x="1687" y="404" textLength="45.5" lengthAdjust="spacingAndGlyphs">0.92045</text>
<text class="s" x="1687" y="436" textLength="45.5" lengthAdjust="spacingAndGlyphs">0.91920</text>
<text class="s" x="1687" y="468" textLength="45.5" lengthAdjust="spacingAndGlyphs">0.91795</text>
<text class="s" x="1687" y="532" textLength="45.5" lengthAdjust="spacingAndGlyphs">0.91545</text>
<text class="s" x="1687" y="564" textLength="45.5" lengthAdjust="spacingAndGlyphs">0.91420</text>
<text class="s" x="1687" y="596" textLength="45.5" lengthAdjust="spacingAndGlyphs">0.91295</text>
<text class="s" x="1687" y="628" textLength="45.5" lengthAdjust="spacingAndGlyphs">0.91170</text>
<text class="s" x="1687" y="660" textLength="45.5" lengthAdjust="spacingAndGlyphs">0.91045</text>
<text class="s" x="1687" y="701" textLength="38.5" lengthAdjust="spacingAndGlyphs">100.00</text>
<text class="s" x="1687" y="709" textLength="32" lengthAdjust="spacingAndGlyphs">80.00</text>
<text class="s" x="1687" y="754" textLength="32" lengthAdjust="spacingAndGlyphs">20.00</text>
<text class="s" x="1687" y="762" textLength="25" lengthAdjust="spacingAndGlyphs">0.00</text>
<text class="s" x="1687" y="778" textLength="52" lengthAdjust="spacingAndGlyphs">0.004762</text>
<text class="s" x="1687" y="823" textLength="52" lengthAdjust="spacingAndGlyphs">0.000000</text>
<text class="s" x="1687" y="851" textLength="56" lengthAdjust="spacingAndGlyphs">-0.003263</text>
<rect x="1684" y="41" width="54" height="14" fill="#ff0000" class="cr"/>
<text class="w" x="1687.5" y="53" textLength="45.5" lengthAdjust="spacingAndGlyphs">0.93420</text>
<rect x="1684" y="102" width="54" height="14" fill="#ff0000" class="cr"/>
<text class="w" x="1687.5" y="114" textLength="45.5" lengthAdjust="spacingAndGlyphs">0.93180</text>
<rect x="1684" y="159" width="54" height="14" fill="#ff0000" class="cr"/>
<text class="w" x="1687.5" y="171" textLength="45.5" lengthAdjust="spacingAndGlyphs">0.92960</text>
<rect x="1684" y="217" width="54" height="14" fill="#ff0000" class="cr"/>
<text class="w" x="1687.5" y="229" textLength="45.5" lengthAdjust="spacingAndGlyphs">0.92730</text>
<rect x="1684" y="332" width="54" height="14" fill="#ff0000" class="cr"/>
<text class="w" x="1687.5" y="344" textLength="45.5" lengthAdjust="spacingAndGlyphs">0.92280</text>
<rect x="1684" y="378" width="54" height="14" fill="#ff0000" class="cr"/>
<text class="w" x="1687.5" y="390" textLength="45.5" lengthAdjust="spacingAndGlyphs">0.92100</text>
<rect x="1684" y="486" width="54" height="14" fill="#2e8b57" class="cr"/>
<text class="w" x="1687.5" y="498" textLength="45.5" lengthAdjust="spacingAndGlyphs">0.91680</text>
<rect x="1684" y="532" width="54" height="14" fill="#2e8b57" class="cr"/>
<text class="w" x="1687.5" y="544" textLength="45.5" lengthAdjust="spacingAndGlyphs">0.91500</text>
<rect x="1684" y="603" width="54" height="14" fill="#2e8b57" class="cr"/>
<text class="w" x="1687.5" y="615" textLength="45.5" lengthAdjust="spacingAndGlyphs">0.91220</text>
<rect x="1684" y="642" width="54" height="14" fill="#2e8b57" class="cr"/>
<text class="w" x="1687.5" y="654" textLength="45.5" lengthAdjust="spacingAndGlyphs">0.91070</text>
<rect x="1684" y="412" width="54" height="14" fill="#778899" class="cr"/>
<text class="w" x="1687.5" y="424" textLength="45.5" lengthAdjust="spacingAndGlyphs">0.91969</text>
<text x="1.5" y="869" font-size="12.4" fill="#000">17 Jan 2022</text>
<text x="129.5" y="869" font-size="12.4" fill="#000">19 Jan 20:00</text>
<text x="257.5" y="869" font-size="12.4" fill="#000">24 Jan 12:00</text>
<text x="385.5" y="869" font-size="12.4" fill="#000">27 Jan 04:00</text>
<text x="513.5" y="869" font-size="12.4" fill="#000">31 Jan 20:00</text>
<text x="641.5" y="869" font-size="12.4" fill="#000">3 Feb 12:00</text>
<text x="769.5" y="869" font-size="12.4" fill="#000">8 Feb 04:00</text>
<text x="897.5" y="869" font-size="12.4" fill="#000">10 Feb 20:00</text>
<text x="1025.5" y="869" font-size="12.4" fill="#000">15 Feb 12:00</text>
<text x="1153.5" y="869" font-size="12.4" fill="#000">18 Feb 04:00</text>
<text x="1281.5" y="869" font-size="12.4" fill="#000">22 Feb 20:00</text>
<text x="706.8" y="97.5" font-size="53.2" fill="#000" textLength="566" lengthAdjust="spacingAndGlyphs">USDCHF - 4 Hour Chart</text>
<text x="1466" y="39.5" font-size="24.3" fill="#ff0000" textLength="77" lengthAdjust="spacingAndGlyphs">0.9342</text>
<text x="1466" y="100.3" font-size="24.3" fill="#ff0000" textLength="77" lengthAdjust="spacingAndGlyphs">0.9318</text>
<text x="1466" y="160.5" font-size="24.3" fill="#ff0000" textLength="77" lengthAdjust="spacingAndGlyphs">0.9296</text>
<text x="1466" y="220.2" font-size="24.3" fill="#ff0000" textLength="77" lengthAdjust="spacingAndGlyphs">0.9273</text>
<text x="1466" y="334.2" font-size="24.3" fill="#ff0000" textLength="77" lengthAdjust="spacingAndGlyphs">0.9228</text>
<text x="1466" y="380.5" font-size="24.3" fill="#ff0000" textLength="77" lengthAdjust="spacingAndGlyphs">0.9210</text>
<text x="1466" y="484.1" font-size="24.3" fill="#2e8b57" textLength="77" lengthAdjust="spacingAndGlyphs">0.9168</text>
<text x="1466" y="531.1" font-size="24.3" fill="#2e8b57" textLength="77" lengthAdjust="spacingAndGlyphs">0.9150</text>
<text x="1466" y="604.3" font-size="24.3" fill="#2e8b57" textLength="77" lengthAdjust="spacingAndGlyphs">0.9122</text>
<text x="1466" y="643.5" font-size="24.3" fill="#2e8b57" textLength="77" lengthAdjust="spacingAndGlyphs">0.9107</text>
<text x="721.8" y="423.5" font-size="28.8" fill="#0000cd" textLength="113.3" lengthAdjust="spacingAndGlyphs">200-SMA</text>
<text x="370.2" y="579" font-size="28.8" fill="#ffa500" textLength="97.5" lengthAdjust="spacingAndGlyphs">50-SMA</text>
<text x="1361.8" y="723.5" font-size="22.2" fill="#000" textLength="255" lengthAdjust="spacingAndGlyphs">Stochastics slope upwards</text>
<text x="1266.3" y="799.6" font-size="22.2" fill="#000" textLength="389.8" lengthAdjust="spacingAndGlyphs">MACD negative but above red signal line</text>
</svg></body></html>
